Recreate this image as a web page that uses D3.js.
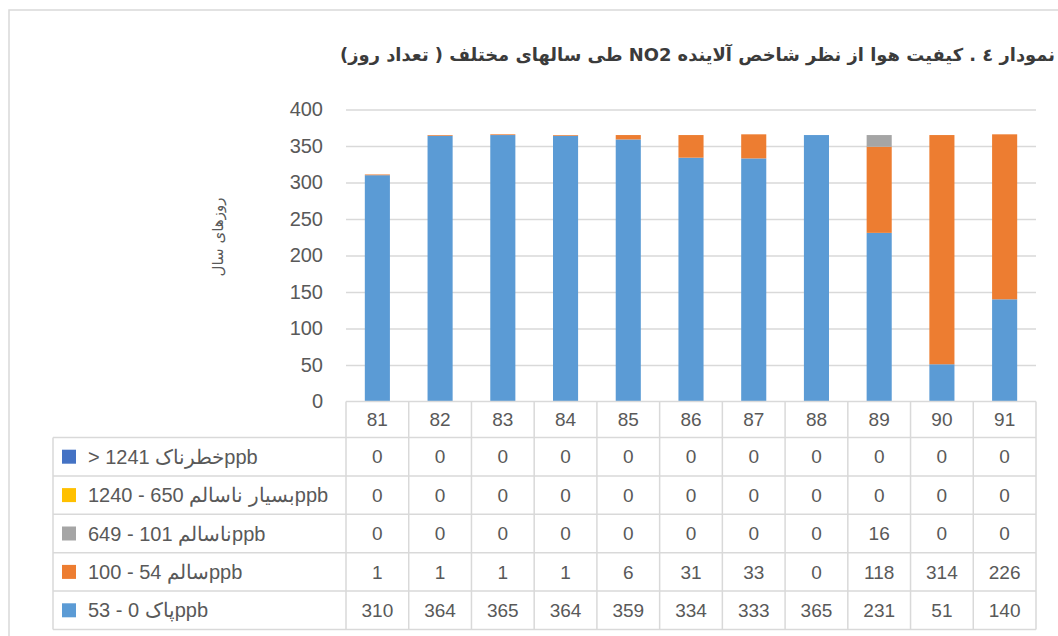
<!DOCTYPE html>
<html>
<head>
<meta charset="utf-8">
<script src="https://cdn.jsdelivr.net/npm/d3@7"></script>
<style>
  body { margin: 0; background: #fff; }
  svg text { fill: #595959; }
</style>
</head>
<body>
<div id="chart"></div>
<script>

// years (Persian calendar, short form)
var years = ['81', '82', '83', '84', '85', '86', '87', '88', '89', '90', '91'];

// days per year in each NO2 class
var clean = [310, 364, 365, 364, 359, 334, 333, 365, 231, 51, 140];
var healthy = [1, 1, 1, 1, 6, 31, 33, 0, 118, 314, 226];
var unhealthy = [0, 0, 0, 0, 0, 0, 0, 0, 16, 0, 0];
var veryUnhealthy = [0, 0, 0, 0, 0, 0, 0, 0, 0, 0, 0];
var dangerous = [0, 0, 0, 0, 0, 0, 0, 0, 0, 0, 0];

// legend / table row labels
var labelClean = '53 - 0 پاکppb';
var labelHealthy = '100 - 54 سالمppb';
var labelUnhealthy = '649 - 101 ناسالمppb';
var labelVeryUnhealthy = '1240 - 650 بسیار ناسالمppb';
var labelDangerous = '> 1241 خطرناکppb';

var yTicks = [0, 50, 100, 150, 200, 250, 300, 350, 400];

var titleText = 'نمودار ٤ . کیفیت هوا از نظر شاخص آلاینده NO2 طی سالهای مختلف ( تعداد روز)';
var yLabel = 'روزهای سال';

// stacking order, bottom to top
var series = [
    {key: 'clean', label: labelClean, values: clean, color: '#5B9BD5'},
    {key: 'healthy', label: labelHealthy, values: healthy, color: '#ED7D31'},
    {key: 'unhealthy', label: labelUnhealthy, values: unhealthy, color: '#A5A5A5'},
    {key: 'veryUnhealthy', label: labelVeryUnhealthy, values: veryUnhealthy, color: '#FFC000'},
    {key: 'dangerous', label: labelDangerous, values: dangerous, color: '#4472C4'}
];

var rows = years.map(function(yr, i) {
    var r = {year: yr};
    series.forEach(function(s) { r[s.key] = s.values[i]; });
    return r;
});

var W = 1058, H = 636;
var plotLeft = 346, plotRight = 1036, plotTop = 109.5, plotBottom = 401.5;
var tableLeft = 53, headerBottom = 437.5, tableBottom = 629.5;
var gridColor = '#D9D9D9';
var font = '"Liberation Sans", Arial, sans-serif';

var svg = d3.select('#chart')
    .append('svg')
        .attr('width', W)
        .attr('height', H)
        .style('font-family', font);

// outer chart border
svg.append('rect')
    .attr('x', 9).attr('y', 10)
    .attr('width', W + 20).attr('height', H + 20)
    .attr('fill', 'none')
    .attr('stroke', gridColor)
    .attr('stroke-width', 1.5);

// title (rtl)
svg.append('text')
    .attr('x', 1055)
    .attr('y', 61)
    .style('direction', 'rtl')
    .attr('text-anchor', 'start')
    .style('font-family', '"DejaVu Sans", sans-serif')
    .style('font-weight', 'bold')
    .style('font-size', '17.9px')
    .style('fill', '#3b3b3b')
    .text(titleText);

// scales
var y = d3.scaleLinear()
    .domain([0, 400])
    .range([plotBottom, plotTop]);

var x = d3.scaleBand()
    .domain(years)
    .range([plotLeft, plotRight])
    .paddingInner(0.6)
    .paddingOuter(0.3);

var col = d3.scaleBand()
    .domain(years)
    .range([plotLeft, plotRight]);

var tableOrder = series.slice().reverse();
var row = d3.scaleBand()
    .domain(tableOrder.map(function(s) { return s.key; }))
    .range([headerBottom, tableBottom]);

// gridlines
svg.append('g')
    .attr('transform', 'translate(' + plotLeft + ',0)')
    .call(d3.axisLeft(y).tickValues(yTicks.slice(1)).tickSize(-(plotRight - plotLeft)).tickFormat(''))
    .call(function(g) { g.select('.domain').remove(); })
    .selectAll('line')
        .attr('stroke', gridColor)
        .attr('stroke-width', 1.5);

// y axis labels
svg.append('g')
    .attr('transform', 'translate(' + plotLeft + ',0)')
    .call(d3.axisLeft(y).tickValues(yTicks).tickSize(0).tickPadding(23))
    .call(function(g) { g.select('.domain').remove(); })
    .selectAll('text')
        .style('font-family', font)
        .style('font-size', '20px')
        .style('fill', '#595959');

// y axis title
svg.append('text')
    .attr('transform', 'translate(218,237) rotate(-90)')
    .attr('text-anchor', 'middle')
    .attr('dy', '0.35em')
    .style('font-family', '"DejaVu Sans", sans-serif')
    .style('font-size', '15px')
    .text(yLabel);

// stacked bars
var stacked = d3.stack().keys(series.map(function(s) { return s.key; }))(rows);

svg.append('g')
    .selectAll('g')
    .data(stacked)
    .enter()
    .append('g')
        .attr('fill', function(d, i) { return series[i].color; })
    .selectAll('rect')
    .data(function(d) { return d.filter(function(p) { return p[1] > p[0]; }); })
    .enter()
    .append('rect')
        .attr('x', function(d) { return x(d.data.year); })
        .attr('y', function(d) { return y(d[1]); })
        .attr('width', x.bandwidth())
        .attr('height', function(d) { return y(d[0]) - y(d[1]); });

// data table
var tbl = svg.append('g');

// horizontal lines
tbl.append('line')
    .attr('x1', plotLeft).attr('x2', plotRight)
    .attr('y1', plotBottom).attr('y2', plotBottom);
tableOrder.forEach(function(s) {
    tbl.append('line')
        .attr('x1', tableLeft).attr('x2', plotRight)
        .attr('y1', row(s.key)).attr('y2', row(s.key));
});
tbl.append('line')
    .attr('x1', tableLeft).attr('x2', plotRight)
    .attr('y1', tableBottom).attr('y2', tableBottom);

// vertical lines
tbl.append('line')
    .attr('x1', tableLeft).attr('x2', tableLeft)
    .attr('y1', headerBottom).attr('y2', tableBottom);
years.forEach(function(yr) {
    tbl.append('line')
        .attr('x1', col(yr)).attr('x2', col(yr))
        .attr('y1', plotBottom).attr('y2', tableBottom);
});
tbl.append('line')
    .attr('x1', plotRight).attr('x2', plotRight)
    .attr('y1', plotBottom).attr('y2', tableBottom);

tbl.selectAll('line')
    .attr('stroke', gridColor)
    .attr('stroke-width', 1.5);

// header (years)
tbl.selectAll('.year')
    .data(years)
    .enter()
    .append('text')
        .attr('class', 'year')
        .attr('x', function(d) { return col(d) + col.bandwidth() / 2; })
        .attr('y', (plotBottom + headerBottom) / 2)
        .attr('dy', '0.35em')
        .attr('text-anchor', 'middle')
        .style('font-size', '19px')
        .text(function(d) { return d; });

// one row per class
tableOrder.forEach(function(s) {
    var cy = row(s.key) + row.bandwidth() / 2;

    tbl.append('rect')
        .attr('x', 62).attr('y', cy - 7)
        .attr('width', 14).attr('height', 14)
        .attr('fill', s.color);

    tbl.append('text')
        .attr('x', 88)
        .attr('y', cy)
        .attr('dy', '0.35em')
        .style('direction', 'ltr')
        .style('font-size', '20px')
        .text(s.label);

    tbl.selectAll('.v-' + s.key)
        .data(s.values)
        .enter()
        .append('text')
            .attr('x', function(d, i) { return col(years[i]) + col.bandwidth() / 2; })
            .attr('y', cy)
            .attr('dy', '0.35em')
            .attr('text-anchor', 'middle')
            .style('font-size', '19px')
            .text(function(d) { return d; });
});

</script>
</body>
</html>
